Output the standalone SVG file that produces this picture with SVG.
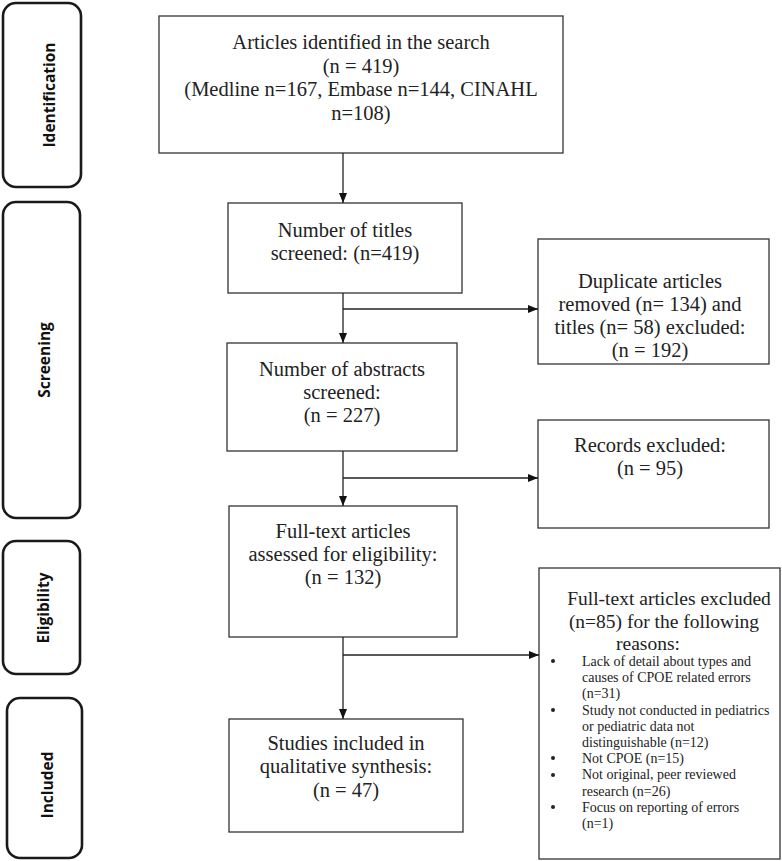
<svg xmlns="http://www.w3.org/2000/svg" width="782" height="861" viewBox="0 0 782 861">
<style>
.phase{fill:#fff;stroke:#1a1a1a;stroke-width:2.6}
.plab{font-family:"Open Sans","DejaVu Sans",sans-serif;font-weight:bold;font-size:15.5px;fill:#111;text-anchor:middle}
.box{fill:#fff;stroke:#333;stroke-width:1.3}
.t{font-family:"Liberation Serif","Times New Roman",serif;font-size:20.5px;fill:#222;text-anchor:middle}
.h{font-size:19.5px}
.s{font-family:"Liberation Serif","Times New Roman",serif;font-size:14px;fill:#222}
.c{fill:none;stroke:#222;stroke-width:1.3}
</style>
<defs>
<marker id="ah" markerWidth="10" markerHeight="8" refX="10" refY="4" orient="auto" markerUnits="userSpaceOnUse">
<path d="M0,0 L10,4 L0,8 Z" fill="#111"/>
</marker>
</defs>
<g id="phase-identification"><rect class="phase" x="3" y="3" width="78" height="184" rx="13"/><text class="plab" transform="translate(55,95) rotate(-90)">Identification</text></g>
<g id="phase-screening"><rect class="phase" x="3" y="202" width="77" height="316" rx="13"/><text class="plab" transform="translate(50,360) rotate(-90)">Screening</text></g>
<g id="phase-eligibility"><rect class="phase" x="3" y="541" width="77" height="133" rx="13"/><text class="plab" transform="translate(49,608) rotate(-90)">Eligibility</text></g>
<g id="phase-included"><rect class="phase" x="7" y="698" width="75" height="160" rx="13"/><text class="plab" transform="translate(53,785) rotate(-90)">Included</text></g>

<g id="identified"><rect class="box" x="159" y="16" width="404" height="137"/>
<text class="t" x="361" y="49">Articles identified in the search</text>
<text class="t" x="361" y="72.5">(n = 419)</text>
<text class="t" x="361" y="96">(Medline n=167, Embase n=144, CINAHL</text>
<text class="t" x="361" y="119.5">n=108)</text></g>

<g id="titles"><rect class="box" x="228" y="203" width="234" height="90"/>
<text class="t" x="345" y="237">Number of titles</text>
<text class="t" x="345" y="260">screened: (n=419)</text></g>

<g id="duplicates"><rect class="box" x="538" y="239" width="231" height="125"/>
<text class="t" x="650" y="288">Duplicate articles</text>
<text class="t" x="650" y="311">removed (n= 134) and</text>
<text class="t" x="650" y="334">titles (n= 58) excluded:</text>
<text class="t" x="650" y="357">(n = 192)</text></g>

<g id="abstracts"><rect class="box" x="227" y="343" width="230" height="108"/>
<text class="t" x="342" y="376">Number of abstracts</text>
<text class="t" x="342" y="399">screened:</text>
<text class="t" x="342" y="422">(n = 227)</text></g>

<g id="records-excluded"><rect class="box" x="538" y="420" width="231" height="108"/>
<text class="t" x="650" y="452">Records excluded:</text>
<text class="t" x="650" y="475">(n = 95)</text></g>

<g id="fulltext"><rect class="box" x="229" y="506" width="228" height="131"/>
<text class="t" x="343" y="538">Full-text articles</text>
<text class="t" x="343" y="561">assessed for eligibility:</text>
<text class="t" x="343" y="584">(n = 132)</text></g>

<g id="fulltext-excluded"><rect class="box" x="539" y="568" width="241" height="291"/>
<text class="t h" x="669" y="605">Full-text articles excluded</text>
<text class="t h" x="664" y="628">(n=85) for the following</text>
<text class="t h" x="648" y="650">reasons:</text>
<g fill="#222"><circle cx="553" cy="661" r="2"/><circle cx="553" cy="710" r="2"/><circle cx="553" cy="758" r="2"/><circle cx="553" cy="775" r="2"/><circle cx="553" cy="807" r="2"/></g>
<text class="s" x="582" y="666">Lack of detail about types and</text>
<text class="s" x="582" y="682">causes of CPOE related errors</text>
<text class="s" x="582" y="698">(n=31)</text>
<text class="s" x="582" y="715">Study not conducted in pediatrics</text>
<text class="s" x="582" y="731">or pediatric data not</text>
<text class="s" x="582" y="747">distinguishable (n=12)</text>
<text class="s" x="582" y="763">Not CPOE (n=15)</text>
<text class="s" x="582" y="779">Not original, peer reviewed</text>
<text class="s" x="582" y="796">research (n=26)</text>
<text class="s" x="582" y="812">Focus on reporting of errors</text>
<text class="s" x="582" y="828">(n=1)</text></g>

<g id="included"><rect class="box" x="229" y="719" width="234" height="113"/>
<text class="t" x="346" y="750">Studies included in</text>
<text class="t" x="346" y="773">qualitative synthesis:</text>
<text class="t" x="346" y="797">(n = 47)</text></g>

<g id="connectors">
<line class="c" x1="343" y1="153" x2="343" y2="203" marker-end="url(#ah)"/>
<line class="c" x1="343" y1="293" x2="343" y2="343" marker-end="url(#ah)"/>
<line class="c" x1="343" y1="309" x2="538" y2="309" marker-end="url(#ah)"/>
<line class="c" x1="343" y1="451" x2="343" y2="506" marker-end="url(#ah)"/>
<line class="c" x1="343" y1="478" x2="538" y2="478" marker-end="url(#ah)"/>
<line class="c" x1="343" y1="637" x2="343" y2="719" marker-end="url(#ah)"/>
<line class="c" x1="343" y1="655" x2="539" y2="655" marker-end="url(#ah)"/>
</g>
</svg>
